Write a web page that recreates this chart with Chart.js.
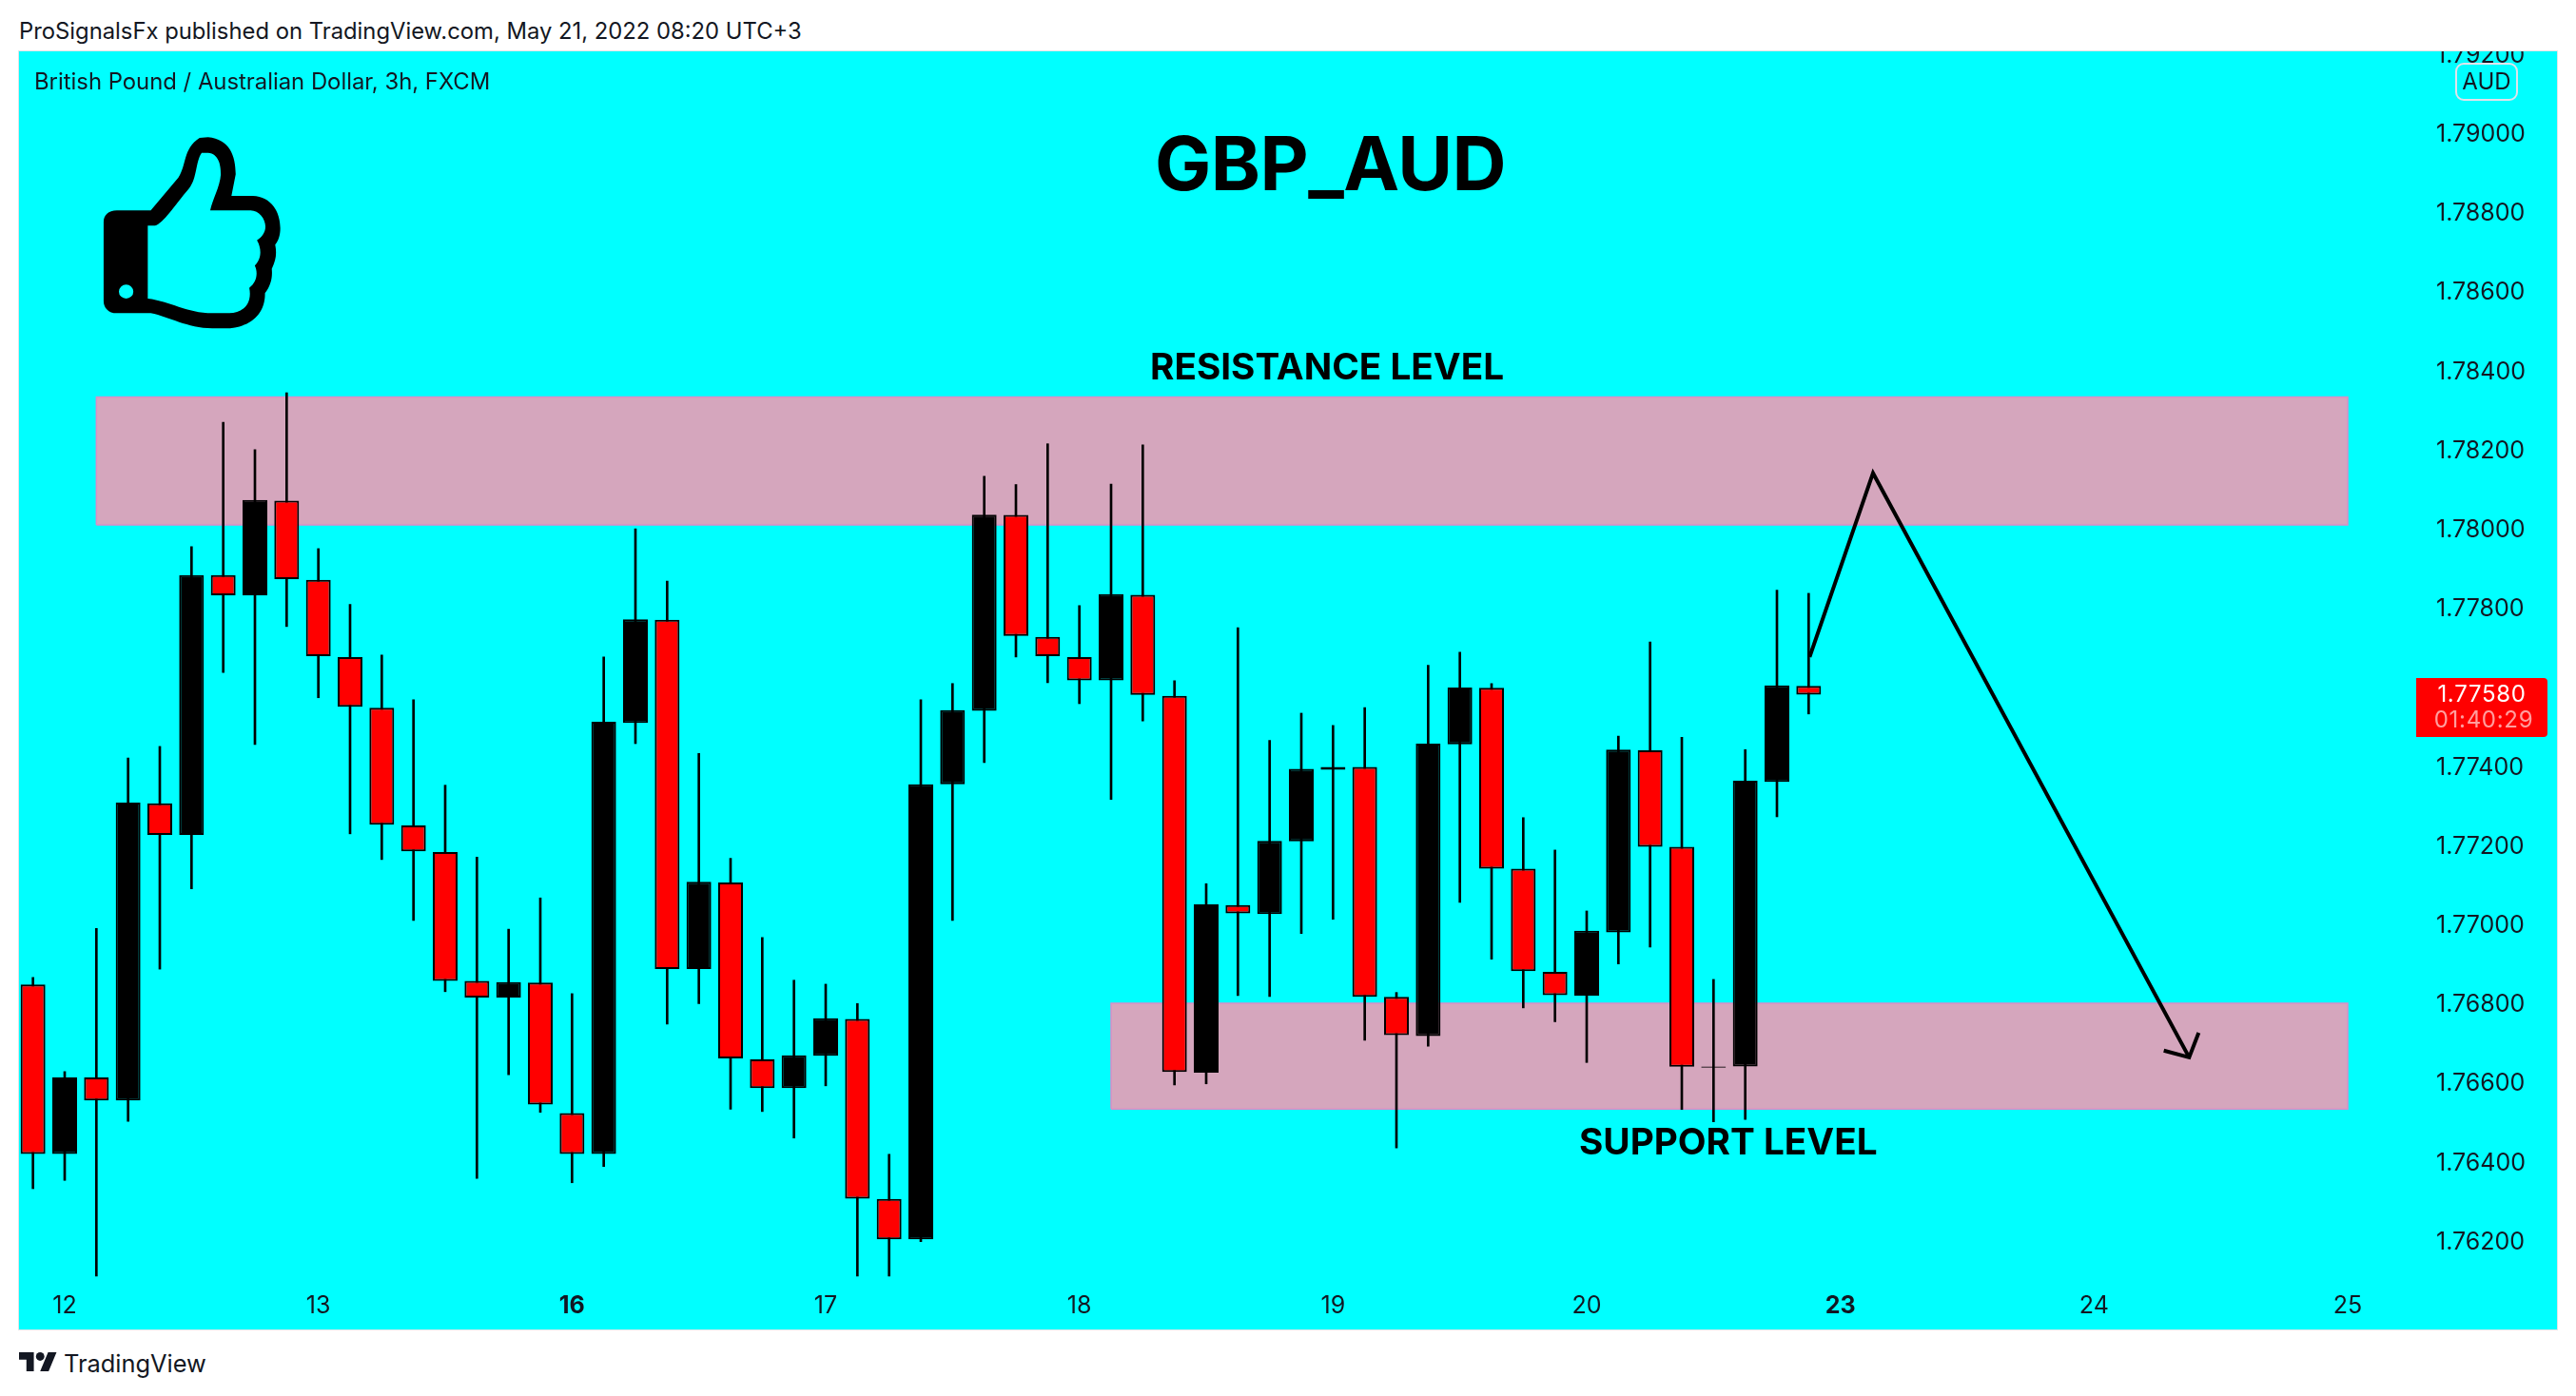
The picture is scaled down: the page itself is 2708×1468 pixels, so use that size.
<!DOCTYPE html>
<html>
<head>
<meta charset="utf-8">
<title>GBP_AUD</title>
<script src="https://cdn.jsdelivr.net/npm/chart.js@4"></script>
<style>
html,body{margin:0;padding:0;background:#fff;width:2708px;height:1468px;overflow:hidden;font-family:Inter,sans-serif;color:#131722}
#panel{position:absolute;left:20px;top:54px;width:2668px;height:1344px;background:#00ffff;box-shadow:0 0 0 1px #dfe5e8}
#wrap{position:absolute;left:20px;top:54px;width:2668px;height:1344px}
canvas{display:block}
.t{position:absolute;white-space:nowrap;line-height:1}
#pub{left:20px;top:21px;font-size:23.8px}
#sym{left:36px;top:74px;font-size:23.85px}
#title{left:1214px;top:132px;font-size:79px;font-weight:700;color:#000;letter-spacing:-.5px}
#res{left:1209px;top:366px;font-size:38.7px;font-weight:700;color:#000}
#sup{left:1660px;top:1181px;font-size:38.7px;font-weight:700;color:#000}
#aud{position:absolute;left:2581px;top:66px;height:36px;width:62px;border:2px solid #e0e3eb;border-radius:9px;font-size:24px;line-height:36px;text-align:center}
#price{position:absolute;left:2540px;top:713px;width:138px;height:62px;background:#ff0000;border-radius:0 4px 4px 0;color:#fff;text-align:center}
#price div{position:absolute;left:0;width:138px;line-height:1;font-size:24px;letter-spacing:.7px}
#foot{left:67px;top:1421px;font-size:25.4px;color:#131722}
svg{position:absolute}
</style>
</head>
<body>
<div id="panel"></div>
<div id="wrap"><canvas id="c" width="2668" height="1344"></canvas></div>
<div class="t" id="pub">ProSignalsFx published on TradingView.com, May 21, 2022 08:20 UTC+3</div>
<div class="t" id="sym">British Pound / Australian Dollar, 3h, FXCM</div>
<div class="t" id="title">GBP_AUD</div>
<div class="t" id="res">RESISTANCE LEVEL</div>
<div class="t" id="sup">SUPPORT LEVEL</div>
<div id="aud">AUD</div>
<div id="price"><div style="top:5px">1.77580</div><div style="top:32px;opacity:.62;left:2px">01:40:29</div></div>
<svg style="left:0;top:0" width="700" height="400" viewBox="0 0 1568 1200" preserveAspectRatio="none">
<path fill="#000" fill-rule="evenodd" d="M355 664L420 560C440 520 430 470 470 435L490 433C540 440 555 490 555 550L545 618L595 618C640 620 660 670 660 720C660 745 655 760 648 772C652 800 650 820 640 848C642 875 638 900 624 925C625 990 590 1035 530 1036L500 1036C440 1035 400 1000 355 988L275 988C255 988 244 970 244 950L244 700C244 680 255 664 275 664ZM348 712L365 712C385 705 410 650 445 595C465 560 460 510 475 482L490 482C515 485 520 520 520 550C518 590 500 630 495 664L590 664C610 665 625 690 625 715C625 735 615 750 605 758C615 780 618 815 600 838C608 860 605 890 587 908C595 960 570 988 540 988L500 988C440 988 400 950 348 942ZM280 920a17 22 0 1 0 34 0a17 22 0 1 0 -34 0Z"/>
</svg>
<svg style="left:20px;top:1422px" width="40" height="20" viewBox="0 0 36 18"><path fill="#131722" d="M14 18H7V7H0V0h14v18zM28 18h-8L27.5 0h8L28 18z"/><circle fill="#131722" cx="20" cy="4" r="4"/></svg>
<div class="t" id="foot">TradingView</div>
<script>
const dayLabels = ['12','13','16','17','18','19','20','23','24','25'];
const boldDays = ['16','23'];
const priceTicks = [1.762,1.764,1.766,1.768,1.77,1.772,1.774,1.778,1.78,1.782,1.784,1.786,1.788,1.79,1.792];
const barsPerDay = 8;
const firstDayBar = 1;

const opens = [1.76844,1.76416,1.76609,1.76551,1.77302,1.77222,1.77879,1.77828,1.78067,1.77867,1.77672,1.77544,1.77246,1.77179,1.76853,1.76811,1.76849,1.76519,1.76416,1.77505,1.77766,1.76883,1.77102,1.76655,1.76582,1.76664,1.76757,1.76302,1.76200,1.77350,1.77536,1.78031,1.77723,1.77672,1.77613,1.77829,1.77574,1.76621,1.77045,1.77022,1.77206,1.77387,1.77394,1.76813,1.76714,1.77451,1.77594,1.77137,1.76876,1.76816,1.76976,1.77436,1.77192,1.76634,1.76637,1.77356,1.77599];
const closes = [1.76416,1.76609,1.76551,1.77304,1.77222,1.77879,1.77828,1.78069,1.77869,1.77674,1.77546,1.77248,1.77181,1.76853,1.76811,1.76850,1.76541,1.76416,1.77508,1.77767,1.76883,1.77104,1.76657,1.76582,1.76665,1.76759,1.76303,1.76200,1.77350,1.77538,1.78032,1.77725,1.77674,1.77613,1.77831,1.77576,1.76623,1.77047,1.77024,1.77207,1.77389,1.77394,1.76813,1.76716,1.77453,1.77595,1.77137,1.76878,1.76817,1.76980,1.77438,1.77192,1.76636,1.76637,1.77359,1.77600,1.77577];
const highs = [1.76862,1.76624,1.76986,1.77417,1.77446,1.77951,1.78265,1.78196,1.78340,1.77946,1.77805,1.77677,1.77564,1.77348,1.77166,1.76984,1.77063,1.76821,1.77672,1.77996,1.77864,1.77428,1.77163,1.76963,1.76855,1.76845,1.76796,1.76415,1.77564,1.77605,1.78129,1.78108,1.78211,1.77802,1.78109,1.78208,1.77612,1.77099,1.77746,1.77461,1.77530,1.77499,1.77544,1.76824,1.77651,1.77684,1.77605,1.77266,1.77184,1.77030,1.77472,1.77710,1.77469,1.76857,1.77438,1.77841,1.77833];
const lows = [1.76328,1.76349,1.76107,1.76498,1.76883,1.77086,1.77633,1.77451,1.77749,1.77569,1.77225,1.77160,1.77006,1.76826,1.76354,1.76616,1.76521,1.76343,1.76384,1.77453,1.76744,1.76796,1.76529,1.76523,1.76456,1.76588,1.76107,1.76107,1.76194,1.77006,1.77405,1.77672,1.77607,1.77554,1.77312,1.77510,1.76590,1.76593,1.76816,1.76814,1.76973,1.77009,1.76703,1.76431,1.76688,1.77052,1.76908,1.76785,1.76750,1.76647,1.76896,1.76939,1.76528,1.76497,1.76503,1.77268,1.77528];

const resistanceBars = [2,73];
const resistancePrices = [1.78006,1.78329];
const supportBars = [34,73];
const supportPrices = [1.76529,1.76797];
const arrowBars = [56.03,58.03,68];
const arrowPrices = [1.77672,1.78137,1.7666];
const arrowHeadBars = [67.2,68,68.3];
const arrowHeadPrices = [1.76677,1.7666,1.76722];

const CANDLE_BLACK = '#000000', CANDLE_RED = '#ff0000', ZONE = '#d5a6bd', ZONE_EDGE = '#d98fc8';

function zoneFill(bars, prices){
  return {type:'line', order:10, data:bars.map(x=>({x,y:prices[1]})),
    borderWidth:0, backgroundColor:ZONE, pointRadius:0, tension:0,
    fill:{target:{value:prices[0]}}};
}
function zoneEdge(bars, prices){
  const [x0,x1] = bars, [lo,hi] = prices;
  return {type:'line', order:9, data:[{x:x0,y:lo},{x:x0,y:hi},{x:x1,y:hi},{x:x1,y:lo},{x:x0,y:lo}],
    borderColor:ZONE_EDGE, borderWidth:1.5, pointRadius:0, tension:0, fill:false};
}

new Chart(document.getElementById('c'), {
  type:'bar',
  data:{datasets:[
    zoneFill(resistanceBars,resistancePrices), zoneEdge(resistanceBars,resistancePrices),
    zoneFill(supportBars,supportPrices), zoneEdge(supportBars,supportPrices),
    {type:'bar', order:5, grouped:false, barThickness:2, backgroundColor:CANDLE_BLACK, borderWidth:0,
     data:highs.map((h,i)=>({x:i,y:[lows[i],h]}))},
    {type:'bar', order:4, grouped:false, barThickness:26,
     backgroundColor:opens.map((o,i)=>closes[i]>=o?CANDLE_BLACK:CANDLE_RED),
     borderColor:CANDLE_BLACK, borderWidth:2, borderSkipped:false, inflateAmount:0,
     data:opens.map((o,i)=>({x:i,y:[o,closes[i]]}))},
    {type:'line', order:1, data:arrowBars.map((x,i)=>({x,y:arrowPrices[i]})),
     borderColor:'#000', borderWidth:4, pointRadius:0, tension:0, fill:false},
    {type:'line', order:1, data:arrowHeadBars.map((x,i)=>({x,y:arrowHeadPrices[i]})),
     borderColor:'#000', borderWidth:4, pointRadius:0, tension:0, fill:false}
  ]},
  options:{
    responsive:false, animation:false, devicePixelRatio:1,
    layout:{padding:0},
    plugins:{legend:{display:false},tooltip:{enabled:false},title:{display:false}},
    datasets:{bar:{grouped:false}},
    scales:{
      x:{type:'linear', offset:false, min:-0.44, max:75.46,
        grid:{display:false}, border:{display:false},
        afterBuildTicks(s){ s.ticks = dayLabels.map((_,k)=>({value:firstDayBar+k*barsPerDay})); },
        afterFit(s){ s.height=53; s.paddingLeft=0; s.paddingRight=0; },
        ticks:{autoSkip:false, maxRotation:0, padding:5, color:'#131722',
          font(ctx){ const l=ctx.tick?dayLabels[(ctx.tick.value-firstDayBar)/barsPerDay]:'';
            return {family:'Inter',size:25,weight:boldDays.includes(l)?'700':'400'}; },
          callback(v){ return dayLabels[(v-firstDayBar)/barsPerDay]; }}
      },
      y:{type:'linear', position:'right', min:1.760996, max:1.79203,
        grid:{display:false}, border:{display:false},
        afterBuildTicks(s){ s.ticks = priceTicks.map(value=>({value})); },
        afterFit(s){ s.width=138; s.paddingTop=0; s.paddingBottom=0; },
        ticks:{autoSkip:false, padding:3, labelOffset:3, color:'#131722', font:{family:'Inter',size:25},
          callback(v){ return v.toFixed(5); }}
      }
    }
  }
});
</script>
</body>
</html>
